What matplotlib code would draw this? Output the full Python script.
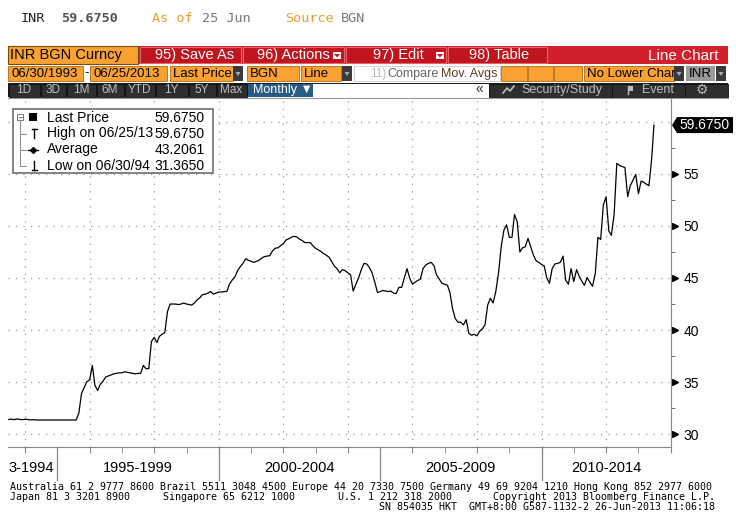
import matplotlib
matplotlib.use("Agg")
import matplotlib.pyplot as plt
from matplotlib.patches import Rectangle, Polygon
import numpy as np
import pandas as pd

# INR BGN Curncy, monthly closes (Jun 1993 .. 25 Jun 2013)
y1993 = [31.42, 31.45, 31.40, 31.48, 31.43, 31.40, 31.45]
y1994 = [31.42, 31.38, 31.40, 31.38, 31.37, 31.365, 31.37, 31.37, 31.37, 31.37, 31.37, 31.37]
y1995 = [31.37, 31.37, 31.37, 31.37, 31.37, 31.37, 31.37, 32.0, 33.9, 34.5, 35.05, 35.2]
y1996 = [36.6, 34.7, 34.2, 34.8, 35.1, 35.5, 35.6, 35.7, 35.8, 35.85, 35.9, 35.9]
y1997 = [36.0, 35.95, 35.9, 35.85, 35.8, 35.85, 35.85, 36.6, 36.3, 36.3, 38.9, 39.3]
y1998 = [38.8, 39.4, 39.6, 39.75, 41.8, 42.5, 42.5, 42.5, 42.45, 42.5, 42.6, 42.5]
y1999 = [42.45, 42.4, 42.6, 42.9, 43.1, 43.4, 43.45, 43.55, 43.7, 43.45, 43.55, 43.65]
y2000 = [43.65, 43.7, 43.7, 44.4, 44.8, 45.1, 45.7, 46.1, 46.4, 46.85, 46.7, 46.6]
y2001 = [46.5, 46.6, 46.7, 46.9, 47.05, 47.1, 47.14, 47.6, 47.85, 47.9, 48.1, 48.3]
y2002 = [48.65, 48.75, 48.9, 49.0, 48.95, 48.75, 48.6, 48.4, 48.4, 48.4, 48.1, 47.85]
y2003 = [47.7, 47.55, 47.35, 47.2, 47.0, 46.6, 46.15, 45.9, 45.5, 45.8, 45.7, 45.5]
y2004 = [45.3, 43.75, 44.4, 45.0, 45.8, 46.4, 46.35, 46.0, 45.5, 44.6, 43.6, 43.7]
y2005 = [43.8, 43.75, 43.7, 43.75, 43.55, 43.5, 44.1, 44.1, 45.0, 45.9, 45.0, 44.4]
y2006 = [44.6, 44.75, 44.9, 45.9, 46.25, 46.4, 46.5, 46.2, 45.3, 44.9, 44.5, 44.4]
y2007 = [44.3, 43.6, 42.0, 41.1, 40.75, 40.75, 40.5, 41.0, 39.7, 39.5, 39.6, 39.45]
y2008 = [39.9, 40.1, 40.5, 42.4, 43.05, 42.6, 43.7, 45.5, 48.0, 49.6, 50.1, 48.9]
y2009 = [48.9, 51.1, 50.4, 47.5, 47.9, 48.0, 48.8, 48.0, 47.2, 46.65, 46.5, 46.3]
y2010 = [46.15, 45.0, 44.5, 45.9, 46.35, 46.4, 46.5, 47.1, 44.8, 44.4, 45.9, 44.65]
y2011 = [45.8, 45.2, 44.7, 44.3, 45.05, 44.6, 44.2, 45.45, 48.9, 48.7, 52.0, 52.8]
y2012 = [49.5, 49.1, 51.1, 56.0, 55.8, 55.7, 55.6, 52.8, 53.86, 54.4, 54.95, 53.1]
y2013 = [54.3, 54.2, 54.0, 53.86, 56.5, 59.675]

price = np.array(y1993 + y1994 + y1995 + y1996 + y1997 + y1998 + y1999 + y2000 + y2001
                 + y2002 + y2003 + y2004 + y2005 + y2006 + y2007 + y2008 + y2009 + y2010
                 + y2011 + y2012 + y2013)
dates = list(pd.date_range("1993-06-30", periods=len(price) - 1, freq=pd.offsets.MonthEnd()))
dates.append(pd.Timestamp("2013-06-25"))
yrs = np.array([d.year + (d.dayofyear - 0.5) / 365.25 for d in dates])

avg_price = 43.2061
high_date = "06/25/13"
low_date = "06/30/94"
y_ticks = [30, 35, 40, 45, 50, 55, 60]
blocks = [("3-1994", None), ("1995-1999", 1997.5), ("2000-2004", 2002.5),
          ("2005-2009", 2007.5), ("2010-2014", 2012.0)]
block_edges = [1995, 2000, 2005, 2010]

W, H = 736, 527
ORANGE = "#f9a232"
RED = "#c0141f"
SANS = ["Liberation Sans", "DejaVu Sans"]
MONO = ["DejaVu Sans Mono"]
plt.rcParams["font.family"] = SANS

fig = plt.figure(figsize=(W / 100, H / 100), dpi=100)
fig.patch.set_facecolor("white")

# ---- main chart ----
L, R, T, B = 8, 670.7, 97, 447
ax = fig.add_axes([L / W, 1 - B / H, (R - L) / W, (B - T) / H])
ax.set_xlim(1993.47, 2014.0)
ax.set_ylim(28.78, 62.37)
ax.plot(yrs, price, color="black", lw=0.9, zorder=3)

for s in ["top", "left"]:
    ax.spines[s].set_visible(False)
ax.spines["bottom"].set_color("#888888")
ax.spines["right"].set_color("#888888")

ax.yaxis.tick_right()
ax.set_yticks(y_ticks)
ax.set_yticklabels([str(v) if v < 60 else "" for v in y_ticks], fontsize=10)
ax.set_yticks(np.arange(32.5, 62.5, 5), minor=True)
ax.tick_params(axis="y", which="major", length=0, pad=9)
ax.tick_params(axis="y", which="minor", length=3, color="#555555", direction="out")
ax.yaxis.grid(True, which="major", ls=(0, (1, 5)), color="#9a9a9a", lw=0.9)

ax.set_xticks(np.arange(1994, 2015, 2))
ax.set_xticks(np.arange(1994, 2015, 1), minor=True)
ax.xaxis.grid(True, which="major", ls=(0, (1, 5)), color="#9a9a9a", lw=0.9)
ax.tick_params(axis="x", which="both", length=4, color="#888888", labelbottom=False)

# triangles at the labelled ticks
ax.plot(np.full(6, 1.007), y_ticks[:-1], transform=ax.get_yaxis_transform(), ls="none",
        marker=">", ms=4.5, color="black", clip_on=False)

# period blocks below the axis
xt = ax.get_xaxis_transform()
for yr in block_edges:
    ax.plot([yr, yr], [0, -0.095], transform=xt, color="#888888", lw=0.9, clip_on=False)
for lab, c in blocks:
    if c is None:
        ax.text(0.0, -0.06, lab, transform=ax.transAxes, ha="left", va="center", fontsize=10.5)
    else:
        ax.text(c, -0.06, lab, transform=xt, ha="center", va="center", fontsize=10.5)

# ---- overlay for the terminal chrome ----
ov = fig.add_axes([0, 0, 1, 1], zorder=5)
ov.set_xlim(0, W)
ov.set_ylim(H, 0)
ov.axis("off")
ov.patch.set_alpha(0)


def box(x0, y0, x1, y1, fc, ec="none", lw=0.8):
    ov.add_patch(Rectangle((x0, y0), x1 - x0, y1 - y0, facecolor=fc, edgecolor=ec, linewidth=lw))


def txt(x, y, s, **kw):
    kw.setdefault("va", "center")
    ov.text(x, y, s, **kw)


# last price tag, placed at the price's height on the chart scale
tag_y = H - ax.transData.transform((yrs[-1], price[-1]))[1]
ov.add_patch(Polygon([[672, tag_y], [677, tag_y - 8], [733, tag_y - 8], [733, tag_y + 8],
                      [677, tag_y + 8]], closed=True, fc="black", ec="none"))
txt(705, tag_y, f"{price[-1]:.4f}", color="white", fontsize=10, ha="center")

# title line
txt(21, 18, "INR", color="#222222", fontsize=9.7, family=MONO)
txt(61, 18, "59.6750", color="#555555", fontsize=9.7, family=MONO, weight="bold")
txt(152, 18, "As of", color="#f19a2e", fontsize=9.7, family=MONO)
txt(202, 18, "25 Jun", color="#777777", fontsize=9.7, family=MONO)
txt(285, 18, "Source", color="#f19a2e", fontsize=9.7, family=MONO)
txt(341, 18, "BGN", color="#777777", fontsize=9.7, family=MONO)

# toolbar row 1
box(8, 46, 138, 64, ORANGE, ec="#7a4a10")
txt(10, 55.5, "INR BGN Curncy", color="black", fontsize=10.5)
box(139, 46, 728, 64, "#d2202c")
for x0, x1, tx, lab in [(140, 241, 155, "95) Save As"), (243, 344, 257, "96) Actions"),
                        (346, 446, 373, "97) Edit"), (448, 547, 469, "98) Table")]:
    box(x0, 47, x1, 63, RED, ec="#e8606a", lw=0.8)
    txt(tx, 55.5, lab, color="white", fontsize=10.5)
for xd in (337, 440):
    box(xd - 4, 52, xd + 4, 59, "white")
    ov.add_patch(Polygon([[xd - 3, 54], [xd + 3, 54], [xd, 57.5]], closed=True, fc=RED, ec="none"))
txt(719, 55.5, "Line Chart", color="white", fontsize=11, ha="right")

# toolbar row 2
for x0, x1, lab in [(8, 83, "06/30/1993"), (90, 167, "06/25/2013"), (170, 233, "Last Price"),
                    (247, 299, "BGN"), (301, 341, "Line"), (501, 527, ""), (528, 553, ""),
                    (554, 582, ""), (584, 674, "No Lower Char")]:
    box(x0, 66, x1, 81, ORANGE, ec="#b06a10", lw=0.6)
    txt(x0 + 3, 74, lab, color="black", fontsize=9.5)
txt(86.5, 73.5, "-", color="black", fontsize=9.5, ha="center")
for x0 in (233, 342, 674, 716):
    box(x0, 66, x0 + 10, 81, "#3a3a3a")
    ov.add_patch(Polygon([[x0 + 2.5, 72], [x0 + 7.5, 72], [x0 + 5, 76]], closed=True, fc="#aaaaaa", ec="none"))
box(354, 66, 500, 81, "white", ec="#cccccc", lw=0.6)
txt(370, 74, "11)", color="#bbbbbb", fontsize=8.5)
txt(387, 74, "Compare", color="#666666", fontsize=9)
txt(441, 74, "Mov. Avgs", color="#5a4020", fontsize=9)
box(686, 66, 715, 81, "#9a9a9a")
txt(689, 74, "INR", color="black", fontsize=9.5)

# toolbar row 3
box(8, 83, 728, 97, "#1e1e1e")
for x0, x1, lab in [(8, 40, "1D"), (40, 66, "3D"), (66, 96, "1M"), (96, 124, "6M"),
                    (124, 155, "YTD"), (155, 188, "1Y"), (188, 216, "5Y"), (216, 247, "Max")]:
    box(x0 + 0.5, 83.5, x1 - 0.5, 96.5, "#2e2e2e", ec="#111111", lw=0.6)
    txt((x0 + x1) / 2, 90, lab, color="#bdbdbd", fontsize=8.5, ha="center")
box(248, 83.5, 313, 96.5, "#2a5a86")
txt(253, 90, "Monthly \u25bc", color="white", fontsize=9)
box(313, 83.5, 489, 96.5, "white")
txt(479, 89.5, "\u00ab", color="#333333", fontsize=10, ha="center")
box(489, 83.5, 612, 96.5, "#2e2e2e", ec="#111111", lw=0.6)
ov.plot([503, 507, 510, 514], [93, 88, 91, 86], color="#bdbdbd", lw=1.2)
txt(521, 90, "Security/Study", color="#bdbdbd", fontsize=9)
box(612, 83.5, 685, 96.5, "#2e2e2e", ec="#111111", lw=0.6)
box(628, 86, 633, 91, "#bdbdbd")
ov.plot([628, 628], [86, 94], color="#bdbdbd", lw=1)
txt(642, 90, "Event", color="#bdbdbd", fontsize=9)
box(685, 83.5, 728, 96.5, "#2e2e2e", ec="#111111", lw=0.6)
txt(702, 90, "\u2699", color="#bdbdbd", fontsize=10, ha="center", family=["DejaVu Sans"])

# chart top border
ov.plot([8, 728], [97.5, 97.5], color="#999999", lw=0.8)

# legend
box(12.5, 108.5, 212.5, 172.5, "white", ec="#7a7a7a", lw=1.3)
rows = [117.5, 133.5, 149.5, 165.5]
box(17, 114, 23, 120, "white", ec="#777777", lw=0.7)
ov.plot([18.5, 21.5], [117, 117], color="#777777", lw=0.7)
ov.plot([20, 20], [120, rows[3]], color="#888888", lw=0.7)
for yy in rows[1:]:
    ov.plot([20, 26], [yy, yy], color="#888888", lw=0.7)
box(29, 113, 37, 121, "black")
ov.plot([31.5, 36.5], [129, 129], color="black", lw=1)
ov.plot([34, 34], [129, 138], color="black", lw=1)
ov.plot([28, 38], [rows[2], rows[2]], color="black", lw=1)
ov.plot([33], [rows[2]], marker="D", ms=3, color="black")
ov.plot([34, 34], [161, 170], color="black", lw=1)
ov.plot([31.5, 36.5], [170, 170], color="black", lw=1)
labels = ["Last Price", f"High on {high_date}", "Average", f"Low on {low_date}"]
values = [price[-1], price.max(), avg_price, price.min()]
for yy, lab, v in zip(rows, labels, values):
    txt(47, yy, lab, color="black", fontsize=10)
    txt(205, yy, f"{v:.4f}", color="black", fontsize=10, ha="right")

# footer
foot1 = ("Australia 61 2 9777 8600 Brazil 5511 3048 4500 Europe 44 20 7330 7500 "
         "Germany 49 69 9204 1210 Hong Kong 852 2977 6000")
txt(10, 487, foot1, color="black", fontsize=7.2, family=MONO)
txt(10, 497, "Japan 81 3 3201 8900", color="black", fontsize=7.2, family=MONO)
txt(163, 497, "Singapore 65 6212 1000", color="black", fontsize=7.2, family=MONO)
txt(338, 497, "U.S. 1 212 318 2000", color="black", fontsize=7.2, family=MONO)
txt(715, 497, "Copyright 2013 Bloomberg Finance L.P.", color="black", fontsize=7.2,
    family=MONO, ha="right")
txt(715, 507, "SN 854035 HKT  GMT+8:00 G587-1132-2 26-Jun-2013 11:06:18", color="black",
    fontsize=7.2, family=MONO, ha="right")

fig.savefig("out.png", dpi=100)
